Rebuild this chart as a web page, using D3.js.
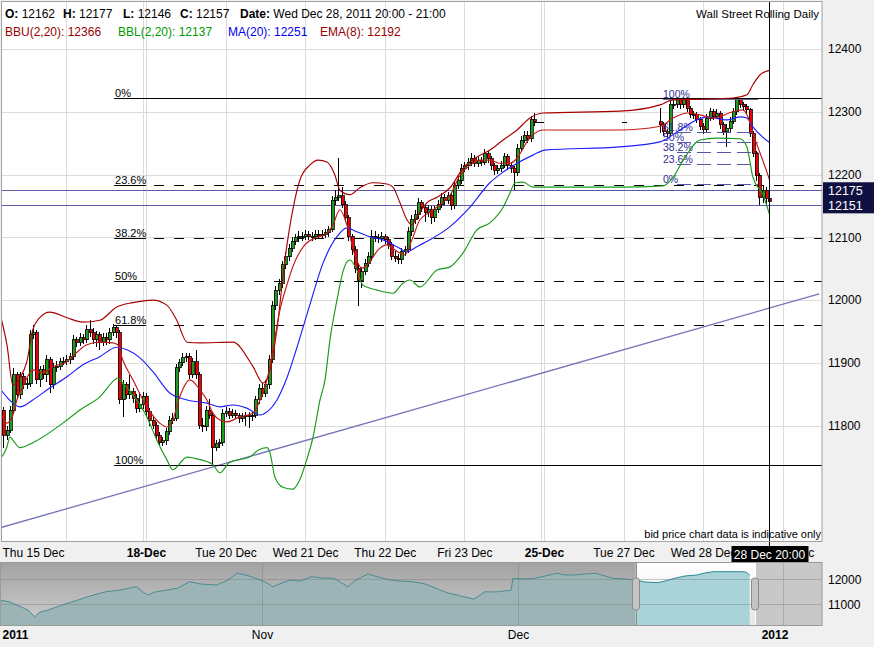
<!DOCTYPE html>
<html><head><meta charset="utf-8">
<script src="https://cdn.jsdelivr.net/npm/d3@7"></script>
<style>
html,body{margin:0;padding:0;background:#f0f0f0;}
svg{display:block;font-family:"Liberation Sans",Arial,sans-serif;}
</style></head><body>
<svg id="c" width="874" height="647"></svg>
<script>
// ---------------- DATA ----------------
// hourly candles: [open, high, low, close]; hour index = hours since Thu 15 Dec 00:00 (trading-day slots)
const segAStart = 5;
const segA = [
[11825,11830,11765,11785],[11785,11800,11778,11793],[11793,11832,11788,11825],[11825,11892,11820,11881],
[11881,11886,11842,11849],[11849,11885,11843,11879],[11879,11884,11858,11865],[11865,11876,11858,11868],
[11868,11952,11862,11945],[11945,11960,11938,11948],[11948,11953,11866,11873],[11873,11895,11862,11889],
[11889,11896,11874,11881],[11881,11912,11870,11905],[11905,11910,11852,11865],[11865,11900,11858,11892],
[11892,11903,11885,11895],[11895,11908,11888,11902],[11902,11910,11896,11903],[11903,11912,11897,11905],
[11905,11916,11899,11910],[11910,11944,11905,11937],[11937,11942,11926,11933],[11933,11948,11927,11940],
[11940,11946,11930,11937],[11937,11960,11931,11953],[11953,11969,11942,11948],[11948,11955,11930,11937],
[11937,11951,11926,11945],[11945,11950,11920,11933],[11933,11948,11927,11940],[11940,11947,11929,11937],
[11937,11955,11930,11949],[11949,11962,11943,11956],[11956,11960,11940,11948],[11948,11952,11835,11841],
[11841,11873,11814,11865],[11865,11870,11843,11849],[11849,11880,11843,11854],[11854,11860,11836,11844],
[11844,11850,11820,11828],[11828,11852,11822,11833],[11833,11853,11827,11847],[11847,11852,11815,11822],
[11822,11828,11800,11809],[11809,11815,11795,11801],[11801,11806,11778,11784],[11784,11790,11768,11773],
[11773,11782,11767,11776],[11776,11796,11770,11790],[11790,11815,11785,11809],[11809,11820,11803,11812],
[11812,11898,11808,11892],[11892,11906,11885,11900],[11900,11915,11895,11908],[11908,11916,11902,11910],
[11910,11915,11875,11881],[11881,11908,11876,11902],[11902,11921,11875,11881],[11881,11886,11795,11801],
[11801,11812,11790,11798],[11798,11832,11792,11825],[11825,11842,11810,11817],[11817,11822,11738,11765],
[11765,11778,11760,11771],[11771,11779,11765,11773],[11773,11826,11768,11820],[11820,11830,11814,11822],
[11822,11828,11811,11817],[11817,11827,11812,11820],[11820,11825,11810,11816],[11816,11820,11805,11812],
[11812,11821,11806,11814],[11814,11822,11800,11816],[11816,11822,11797,11815],[11815,11823,11808,11817],
[11817,11847,11812,11841],[11841,11866,11835,11860],[11860,11868,11846,11852],[11852,11872,11845,11865],
[11865,11912,11858,11905],[11905,11998,11900,11992],[11992,12022,11985,12016],[12016,12034,12008,12027],
[12027,12062,12020,12056],[12056,12076,12050,12069],[12069,12090,12062,12083],[12083,12100,12076,12094],
[12094,12106,12088,12099],[12099,12110,12092,12102],[12102,12108,12094,12101],[12101,12112,12095,12104],
[12104,12110,12095,12101],[12101,12109,12094,12102],[12102,12111,12096,12105],[12105,12112,12097,12104],
[12104,12111,12098,12105],[12105,12113,12099,12107],[12107,12118,12100,12112],[12112,12166,12108,12159],
[12159,12175,12152,12164],[12164,12226,12158,12166],[12166,12180,12146,12152],[12152,12158,12125,12131],
[12131,12136,12094,12101],[12101,12106,12072,12080],[12080,12086,12043,12051],[12051,12058,11990,12032],
[12032,12052,12020,12045],[12045,12066,12040,12059],[12059,12076,12052,12069],[12069,12112,12062,12102],
[12102,12110,12092,12099],[12099,12106,12091,12098],[12098,12108,12092,12101],[12101,12105,12089,12096],
[12096,12100,12082,12088],[12088,12093,12064,12070],[12070,12078,12060,12067],[12067,12074,12058,12064],
[12064,12083,12058,12077],[12077,12087,12070,12080],[12080,12116,12075,12109],[12109,12135,12102,12128],
[12128,12144,12122,12136],[12136,12162,12130,12155],[12155,12160,12140,12147],[12147,12152,12125,12140],
[12140,12151,12132,12144],[12144,12150,12122,12131],[12131,12150,12125,12144],[12144,12159,12138,12152],
[12152,12170,12146,12163],[12163,12169,12152,12159],[12159,12173,12153,12166],[12166,12171,12143,12150],
[12150,12190,12145,12183],[12183,12198,12177,12191],[12191,12217,12185,12210],[12210,12220,12204,12214],
[12214,12227,12208,12220],[12220,12234,12213,12226],[12226,12231,12212,12218],[12218,12228,12212,12222],
[12222,12228,12214,12220],[12220,12240,12215,12233],[12233,12238,12219,12226],[12226,12230,12207,12214],
[12214,12219,12200,12207],[12207,12216,12201,12210],[12210,12222,12204,12215],[12215,12235,12210,12228],
[12228,12232,12208,12215],[12215,12220,12203,12210],[12210,12214,12175,12203],[12203,12249,12198,12242],
[12242,12262,12236,12255],[12255,12270,12250,12263],[12263,12270,12251,12258],[12258,12293,12252,12287],
[12287,12298,12278,12284],[12284,12284,12284,12284],[12284,12284,12284,12284]
];
const segBStart = 192;
const segB = [[12284,12284,12284,12284]];
const segCStart = 203;
const segC = [
[12284,12306,12266,12279],[12279,12283,12262,12268],[12268,12272,12260,12266],[12266,12324,12262,12311],
[12311,12318,12304,12312],[12312,12324,12306,12319],[12319,12322,12305,12311],[12311,12324,12306,12319],
[12319,12323,12300,12306],[12306,12310,12290,12295],[12295,12302,12289,12296],[12296,12300,12282,12287],
[12287,12291,12271,12277],[12277,12282,12265,12271],[12271,12296,12266,12290],[12290,12306,12285,12300],
[12300,12304,12287,12293],[12293,12304,12288,12298],[12298,12302,12273,12279],[12279,12283,12263,12269],
[12269,12280,12244,12274],[12274,12291,12268,12285],[12285,12306,12280,12300],[12300,12323,12295,12319],
[12319,12322,12306,12312],[12312,12316,12302,12308],[12308,12312,12297,12303],[12303,12306,12260,12266],
[12266,12270,12228,12234],[12234,12238,12190,12199],[12199,12203,12152,12164],[12164,12181,12155,12175],
[12175,12180,12150,12162],[12162,12177,12146,12157]
];

// indicator lines: [hour, value]
const bbuPts = [[3.9,11980],[6.1,11929],[7.9,11865],[10.0,11876],[12.1,11902],[13.9,11953],[16.0,11972],[19.0,11981],[24.2,11972],[29.0,11965],[34.1,11968],[39.2,11989],[44.1,11996],[50.1,12000],[54.3,11992],[57.3,11968],[60.4,11933],[64.3,11932],[74.2,11933],[80.3,11894],[83.3,11868],[85.4,11889],[87.5,11953],[89.9,12064],[92.3,12144],[94.4,12191],[97.4,12215],[99.9,12223],[102.6,12220],[105.0,12199],[106.5,12175],[109.5,12168],[112.5,12179],[116.4,12187],[120.7,12185],[122.5,12180],[124.6,12155],[126.7,12128],[128.2,12120],[129.7,12132],[132.7,12155],[135.8,12164],[139.7,12179],[143.6,12210],[147.8,12228],[151.7,12239],[155.7,12255],[159.9,12271],[163.8,12290],[167.7,12298],[190.9,12301],[203.0,12311],[207.0,12319],[215.1,12320],[225.0,12322],[229.2,12327],[231.0,12343],[233.2,12359],[236,12366]];
const bblPts = [[3.9,11746],[6.1,11766],[7.0,11782],[7.9,11777],[10.0,11765],[13.9,11773],[24.2,11809],[28.1,11825],[34.1,11846],[38.6,11873],[39.5,11876],[41.0,11868],[44.1,11849],[48.3,11814],[51.3,11777],[54.3,11746],[56.1,11730],[60.4,11750],[64.3,11746],[68.2,11738],[70.3,11725],[73.3,11742],[76.3,11746],[79.3,11750],[81.8,11761],[84.5,11765],[85.4,11757],[86.9,11718],[89.3,11702],[92.3,11699],[94.4,11714],[96.5,11746],[98.4,11782],[100.5,11841],[102.0,11873],[103.5,11937],[105.6,12000],[107.4,12045],[108.6,12061],[109.5,12064],[111.6,12048],[113.4,12024],[117.7,12016],[122.5,12011],[125.5,12027],[127.6,12032],[130.6,12021],[135.8,12048],[139.7,12053],[143.6,12075],[147.8,12112],[151.7,12123],[155.7,12148],[157.8,12171],[159.3,12187],[161.7,12188],[164.7,12180],[191.5,12180],[203.9,12182],[207.0,12196],[210.0,12223],[215.1,12255],[220.2,12258],[227.1,12257],[229.2,12244],[231.0,12196],[234.1,12167],[236,12137]];
const maPts = [[3.9,11860],[6.9,11841],[10.0,11830],[13.9,11841],[19.0,11860],[24.2,11878],[29.0,11897],[34.1,11910],[39.2,11925],[42.3,11921],[46.2,11908],[50.1,11886],[55.2,11852],[60.4,11841],[66.4,11836],[70.3,11830],[74.2,11833],[78.4,11828],[82.4,11817],[84.5,11822],[87.5,11841],[90.5,11876],[93.5,11924],[97.4,11992],[101.4,12059],[105.6,12101],[108.6,12115],[111.6,12109],[115.5,12101],[119.5,12096],[123.7,12085],[126.7,12077],[129.7,12085],[133.6,12096],[139.7,12117],[145.7,12148],[151.7,12187],[155.7,12204],[159.9,12218],[164.7,12231],[168.3,12239],[190.9,12244],[203.0,12252],[209.0,12271],[213.0,12284],[217.2,12292],[223.2,12287],[227.1,12292],[229.2,12290],[231.0,12276],[236,12251]];
const emaPts = [[3.9,11825],[6.1,11804],[7.9,11817],[9.1,11841],[10.9,11862],[13.9,11889],[16.9,11884],[19.9,11894],[24.2,11902],[27.2,11917],[30.2,11929],[34.1,11933],[38.0,11932],[39.5,11929],[41.0,11905],[44.1,11873],[48.3,11830],[52.2,11804],[54.3,11798],[56.1,11809],[58.2,11846],[61.3,11873],[64.3,11857],[66.4,11841],[68.2,11820],[70.3,11809],[72.4,11806],[76.3,11814],[80.3,11820],[82.4,11841],[84.5,11873],[86.3,11921],[88.4,11984],[90.5,12024],[92.9,12061],[95.9,12088],[98.9,12099],[102.0,12104],[104.4,12120],[106.5,12144],[108.6,12120],[111.0,12072],[113.1,12051],[115.5,12061],[118.0,12080],[120.7,12088],[123.1,12080],[126.1,12072],[128.2,12096],[130.6,12128],[133.6,12140],[136.7,12152],[139.7,12167],[142.7,12199],[145.7,12215],[148.7,12223],[151.7,12223],[154.8,12218],[157.8,12218],[159.9,12226],[162.9,12252],[165.3,12266],[167.7,12271],[190.9,12271],[203.0,12277],[207.0,12290],[211.2,12298],[215.1,12295],[219.0,12290],[225.0,12300],[228.0,12303],[229.5,12292],[231.0,12266],[233.2,12234],[235.3,12203],[236,12192]];

const trendPts = [[3.77,11637],[251,12010]];
const priceLines = [12175, 12151];
const fibPct = [0, 23.6, 38.2, 50, 61.8, 100];
const bigFib = {high: 12322, low: 11738, startHour: 38.4};
const smallFib = {high: 12320, low: 12185, startHour: 203.9, endHour: 232.6};
const crossHour = 236;

const yTicks = [11800, 11900, 12000, 12100, 12200, 12300, 12400];
const dayTickHours = [0, 24, 48, 72, 96, 120, 144, 168, 192, 216, 240];
const dayTickLabels = ["Thu 15 Dec", "", "18-Dec", "Tue 20 Dec", "Wed 21 Dec", "Thu 22 Dec", "Fri 23 Dec", "25-Dec", "Tue 27 Dec", "Wed 28 Dec", "Thu 29 Dec"];
const weekTickHours = [48, 168];
const crossLabel = "28 Dec 20:00";
const dateText = "Wed Dec 28, 2011 20:00 - 21:00";
const titleText = "Wall Street Rolling Daily";
const noteText = "bid price chart data is indicative only";

// navigator (days since 1 Oct 2011)
const navDay = [0.29,1.46,2.87,3.57,4.35,4.98,5.92,6.82,7.91,9.43,10.84,12.72,14.36,16.30,17.05,17.60,18.46,19.86,21.15,22.50,23.73,25.72,27.01,28.07,29.12,30.29,31.35,32.29,33.34,34.28,35.45,36.86,38.03,39.43,40.14,41.07,42.01,43.42,44.59,46.03,47.17,48.63,50.10,51.86,52.80,53.85,54.79,55.84,56.55,57.13,58.30,59.71,60.18,60.41,61.82,62.99,64.16,65.57,66.51,67.56,68.85,70.14,71.20,72.13,73.54,74.77,75.88,77.37,78.23,79.34,80.57,81.95,82.91,83.91,85.26,87.13,87.72,88.15];
const navVal = [11172,11092,10880,10772,10504,10692,10772,10880,11012,11172,11332,11504,11572,11704,11492,11372,11492,11572,11652,11904,11812,11772,11972,12240,12172,12040,11892,11704,11852,11972,11932,12104,12052,12040,11892,11704,11972,12212,12092,11972,11932,11904,11812,11572,11452,11372,11292,11212,11372,11504,11492,11544,11572,12040,12012,12040,12132,12240,12172,12172,12212,12240,12132,12040,12012,11972,11892,11864,11932,12040,12132,12172,12252,12304,12304,12304,12292,12172];
const navSelection = [74.8, 88.8];
const navTickDays = [0, 31, 61, 92];
const navTickLabels = ["2011", "Nov", "Dec", "2012"];
const navYTicks = [11000, 12000];

// ---------------- BUILD ----------------
const candles = [];
function addSeg(start, rows){ rows.forEach((r,i)=>candles.push({t:start+i,o:r[0],h:r[1],l:r[2],c:r[3]})); }
addSeg(segAStart, segA); addSeg(segBStart, segB); addSeg(segCStart, segC);
const last = candles[candles.length-1];

const FONT = '"Liberation Sans", Arial, sans-serif';
const svg = d3.select('#c');
const defs = svg.append('defs');
const P = {x0:1, y0:1, x1:822, y1:541};
defs.append('clipPath').attr('id','plotClip').append('rect')
  .attr('x',P.x0).attr('y',P.y0).attr('width',P.x1-P.x0).attr('height',P.y1-P.y0);

const x = d3.scaleLinear().domain([0,252]).range([-13.3, -13.3 + 252*3.3167]);
const y = d3.scaleLinear().domain([11800,12400]).range([425.7,49]);
const px = v => Math.round(v) + 0.5;

svg.append('rect').attr('width',874).attr('height',647).attr('fill','#f0f0f0');
svg.append('rect').attr('x',P.x0).attr('y',P.y0).attr('width',P.x1-P.x0).attr('height',P.y1-P.y0).attr('fill','#fff');

const g = svg.append('g').attr('clip-path','url(#plotClip)');

// grid
g.append('g').selectAll('line').data(yTicks).join('line')
  .attr('x1',P.x0).attr('x2',P.x1).attr('y1',d=>px(y(d))).attr('y2',d=>px(y(d)))
  .attr('stroke','#dcdcdc').attr('stroke-width',1);
g.append('g').selectAll('line').data(dayTickHours).join('line')
  .attr('x1',d=>px(x(d))).attr('x2',d=>px(x(d))).attr('y1',P.y0).attr('y2',P.y1)
  .attr('stroke','#dcdcdc');
g.append('g').selectAll('line').data(weekTickHours).join('line')
  .attr('x1',d=>px(x(d))-3).attr('x2',d=>px(x(d))-3).attr('y1',P.y0).attr('y2',P.y1)
  .attr('stroke','#dcdcdc');

// trend line
g.append('line')
  .attr('x1',x(trendPts[0][0])).attr('y1',y(trendPts[0][1]))
  .attr('x2',x(trendPts[1][0])).attr('y2',y(trendPts[1][1]))
  .attr('stroke','#7373b8').attr('stroke-width',1.3);

// price lines
g.append('g').selectAll('line').data(priceLines).join('line')
  .attr('x1',P.x0).attr('x2',P.x1).attr('y1',d=>px(y(d))).attr('y2',d=>px(y(d)))
  .attr('stroke','#5a5aa6').attr('stroke-width',1);

// big fibonacci
const bigX = x(bigFib.startHour);
fibPct.forEach(p=>{
  const v = bigFib.high - p/100*(bigFib.high-bigFib.low);
  const yy = px(y(v));
  const solid = (p===0 || p===100);
  if (solid) {
    g.append('line').attr('x1',bigX).attr('x2',P.x1).attr('y1',yy).attr('y2',yy).attr('stroke','#000');
  } else {
    g.append('line').attr('x1',bigX).attr('x2',bigX+32).attr('y1',yy).attr('y2',yy).attr('stroke','#000');
    g.append('line').attr('x1',bigX+40).attr('x2',P.x1).attr('y1',yy).attr('y2',yy)
      .attr('stroke','#000').attr('stroke-dasharray','10,10');
  }
  g.append('text').attr('x',bigX+1).attr('y',yy-2).attr('font-size',11).attr('font-family',FONT)
    .attr('fill','#000').text((p%1===0?p:p.toFixed(1))+'%');
});

// candles
const cg = g.append('g').attr('shape-rendering','crispEdges');
candles.forEach(d=>{
  const cx = Math.round(x(d.t));
  if (d.h===d.l) {
    cg.append('line').attr('x1',cx-2).attr('x2',cx+3).attr('y1',px(y(d.c))).attr('y2',px(y(d.c))).attr('stroke','#000');
    return;
  }
  cg.append('line').attr('x1',cx+0.5).attr('x2',cx+0.5).attr('y1',y(d.h)).attr('y2',y(d.l)).attr('stroke','#000');
  const top = y(Math.max(d.o,d.c)), bot = y(Math.min(d.o,d.c));
  cg.append('rect').attr('x',cx-1).attr('y',top).attr('width',3).attr('height',Math.max(1,bot-top))
    .attr('fill', d.c>=d.o ? '#1f9a1f' : '#f00000').attr('stroke','#000').attr('stroke-width',0.8);
});

// small fibonacci
const sx0 = x(smallFib.startHour), sx1 = x(smallFib.endHour);
fibPct.forEach(p=>{
  const v = smallFib.low + p/100*(smallFib.high-smallFib.low);
  const yy = px(y(v));
  g.append('line').attr('x1',p===100?sx0:sx0+14).attr('x2',sx1).attr('y1',yy).attr('y2',yy)
    .attr('stroke', p===100 ? '#6a6a8a' : '#5555a8')
    .attr('stroke-dasharray', p===100 ? null : '14,6');
  g.append('text').attr('x',sx0).attr('y',yy-1.5).attr('font-size',10.5).attr('font-family',FONT)
    .attr('fill','#2e2e96').text((p%1===0?p:p.toFixed(1))+'%');
});

// indicator lines
const line = d3.line().x(d=>x(d[0])).y(d=>y(d[1])).curve(d3.curveMonotoneX);
[[bblPts,'#1a9a1a'],[maPts,'#1e1eff'],[bbuPts,'#a80000'],[emaPts,'#c41a1a']].forEach(([pts,col])=>{
  g.append('path').attr('d',line(pts)).attr('fill','none').attr('stroke',col).attr('stroke-width',1.15);
});

// header texts
const hdr = svg.append('g').attr('font-family',FONT).attr('font-size',12).attr('fill','#000');
const h1 = [["O:",last.o,5],["H:",last.h,63],["L:",last.l,123],["C:",last.c,180],["Date:",dateText,240]];
h1.forEach(([lab,val,xx])=>{
  const t = hdr.append('text').attr('x',xx).attr('y',18);
  t.append('tspan').attr('font-weight','bold').text(lab);
  t.append('tspan').text(' '+val);
});
const legend = [
  ["BBU(2,20): ", bbuPts[bbuPts.length-1][1], '#990000', 5],
  ["BBL(2,20): ", bblPts[bblPts.length-1][1], '#009900', 118],
  ["MA(20): ", maPts[maPts.length-1][1], '#0000ee', 228],
  ["EMA(8): ", emaPts[emaPts.length-1][1], '#990000', 320]
];
legend.forEach(([lab,val,col,xx])=>{
  hdr.append('text').attr('x',xx).attr('y',36).attr('fill',col).text(lab+val);
});
hdr.append('text').attr('x',819).attr('y',18).attr('text-anchor','end').attr('font-size',11.5).text(titleText);
hdr.append('text').attr('x',821).attr('y',538).attr('text-anchor','end').attr('font-size',11).text(noteText);

// crosshair
const chx = px(x(crossHour));
svg.append('line').attr('x1',chx).attr('x2',chx).attr('y1',1).attr('y2',562).attr('stroke','#000');

// plot border
svg.append('rect').attr('x',1.5).attr('y',1.5).attr('width',P.x1-1.5).attr('height',P.y1-1)
  .attr('fill','none').attr('stroke','#a0a0a0');

// right axis
const ya = svg.append('g').attr('transform','translate(822,0)')
  .call(d3.axisRight(y).tickValues(yTicks).tickSize(0).tickPadding(6).tickFormat(d3.format('d')));
ya.select('.domain').remove();
ya.selectAll('text').attr('font-size',12).attr('font-family',FONT).attr('fill','#000');

// price boxes
const pb = svg.append('g');
priceLines.forEach(v=>{
  const yy = y(v);
  pb.append('rect').attr('x',823).attr('y',yy-8).attr('width',51).attr('height',16).attr('fill','#101040');
  pb.append('text').attr('x',828).attr('y',yy+4.5).attr('font-size',12.5).attr('font-family',FONT)
    .attr('fill','#fff').text(v);
});

// bottom axis
const xa = svg.append('g').attr('transform','translate(0,545)')
  .call(d3.axisBottom(x).tickValues(dayTickHours).tickFormat((d,i)=>dayTickLabels[i]).tickSize(0).tickPadding(3));
xa.select('.domain').remove();
xa.selectAll('text').attr('font-size',12).attr('font-family',FONT).attr('fill','#000')
  .attr('font-weight',(d,i)=>dayTickLabels[i].indexOf('-')>=0?'bold':'normal');
xa.selectAll('text').filter((d,i)=>i===0).attr('text-anchor','start').attr('x',2-x(0));

// crosshair label
svg.append('rect').attr('x',chx-38).attr('y',546).attr('width',77).attr('height',16).attr('fill','#000');
svg.append('text').attr('x',chx).attr('y',558.5).attr('text-anchor','middle').attr('font-size',12)
  .attr('font-family',FONT).attr('fill','#fff').text(crossLabel);

// ---------------- NAVIGATOR ----------------
const N = {x0:0, x1:822, y0:562.5, y1:625.5};
const nx = d3.scaleLinear().domain([0,96.6]).range([-2.5, -2.5+96.6*8.533]);
const ny = d3.scaleLinear().domain([11000,12000]).range([604.3,579.3]);
const navData = navDay.map((d,i)=>[d,navVal[i]]);
const gradA = defs.append('linearGradient').attr('id','navBg').attr('x1',0).attr('x2',0).attr('y1',0).attr('y2',1);
gradA.append('stop').attr('offset','0').attr('stop-color','#a2a2a2');
gradA.append('stop').attr('offset','1').attr('stop-color','#cecece');
const gradB = defs.append('linearGradient').attr('id','selBg').attr('x1',0).attr('x2',0).attr('y1',0).attr('y2',1);
gradB.append('stop').attr('offset','0').attr('stop-color','#ffffff');
gradB.append('stop').attr('offset','1').attr('stop-color','#e6e6e6');
const sx = nx(navSelection[0]), ex = nx(navSelection[1]);
defs.append('clipPath').attr('id','navLeft').append('rect').attr('x',0).attr('y',N.y0).attr('width',sx).attr('height',N.y1-N.y0);
defs.append('clipPath').attr('id','navSel').append('rect').attr('x',sx).attr('y',N.y0).attr('width',ex-sx).attr('height',N.y1-N.y0);

const ng = svg.append('g');
ng.append('rect').attr('x',N.x0).attr('y',N.y0).attr('width',N.x1-N.x0).attr('height',N.y1-N.y0).attr('fill','url(#navBg)');
const area = d3.area().x(d=>nx(d[0])).y0(N.y1).y1(d=>ny(d[1]));
const nline = d3.line().x(d=>nx(d[0])).y(d=>ny(d[1]));
ng.append('path').attr('d',area(navData)).attr('fill','#9db4b6').attr('clip-path','url(#navLeft)');
ng.append('path').attr('d',nline(navData)).attr('fill','none').attr('stroke','#4a8c92').attr('stroke-width',1).attr('clip-path','url(#navLeft)');
ng.append('rect').attr('x',sx).attr('y',N.y0).attr('width',ex-sx).attr('height',N.y1-N.y0).attr('fill','url(#selBg)');
ng.append('path').attr('d',area(navData)).attr('fill','#a9d3d8').attr('clip-path','url(#navSel)');
ng.append('path').attr('d',nline(navData)).attr('fill','none').attr('stroke','#2a8a94').attr('stroke-width',1).attr('clip-path','url(#navSel)');
ng.append('rect').attr('x',ex).attr('y',N.y0).attr('width',N.x1-ex).attr('height',N.y1-N.y0).attr('fill','#c8c8c8');
ng.selectAll('.nh').data(navYTicks).join('line').attr('x1',N.x0).attr('x2',N.x1)
  .attr('y1',d=>px(ny(d))).attr('y2',d=>px(ny(d))).attr('stroke','rgba(110,110,110,0.35)');
ng.selectAll('.nv').data(navTickDays.slice(1)).join('line').attr('x1',d=>px(nx(d))).attr('x2',d=>px(nx(d)))
  .attr('y1',N.y0).attr('y2',N.y1).attr('stroke','rgba(110,110,110,0.3)');
ng.append('line').attr('x1',px(sx)).attr('x2',px(sx)).attr('y1',N.y0).attr('y2',N.y1).attr('stroke','#8a8a8a');
ng.append('line').attr('x1',px(ex)).attr('x2',px(ex)).attr('y1',N.y0).attr('y2',N.y1).attr('stroke','#ffffff');
[sx,ex].forEach(hx=>{
  ng.append('rect').attr('x',Math.round(hx)-3.5).attr('y',578).attr('width',7).attr('height',32).attr('rx',3)
    .attr('fill','#c4c4c4').attr('stroke','#8a8a8a');
});
ng.append('rect').attr('x',0.5).attr('y',N.y0).attr('width',N.x1-0.5).attr('height',N.y1-N.y0)
  .attr('fill','none').attr('stroke','#9a9a9a');

const nya = svg.append('g').attr('transform','translate(822,0)')
  .call(d3.axisRight(ny).tickValues(navYTicks).tickSize(0).tickPadding(6).tickFormat(d3.format('d')));
nya.select('.domain').remove();
nya.selectAll('text').attr('font-size',12).attr('font-family',FONT).attr('fill','#000');

const nxa = svg.append('g').attr('transform','translate(0,627)')
  .call(d3.axisBottom(nx).tickValues(navTickDays).tickFormat((d,i)=>navTickLabels[i]).tickSize(0).tickPadding(3));
nxa.select('.domain').remove();
nxa.selectAll('text').attr('font-size',12).attr('font-family',FONT).attr('fill','#000')
  .attr('font-weight',(d,i)=>/^\d+$/.test(navTickLabels[i])?'bold':'normal');
nxa.selectAll('text').filter((d,i)=>i===0).attr('text-anchor','start').attr('x',2-nx(0));
nxa.selectAll('text').filter((d,i)=>i===navTickLabels.length-1).attr('dx',-8);
</script>
</body></html>
